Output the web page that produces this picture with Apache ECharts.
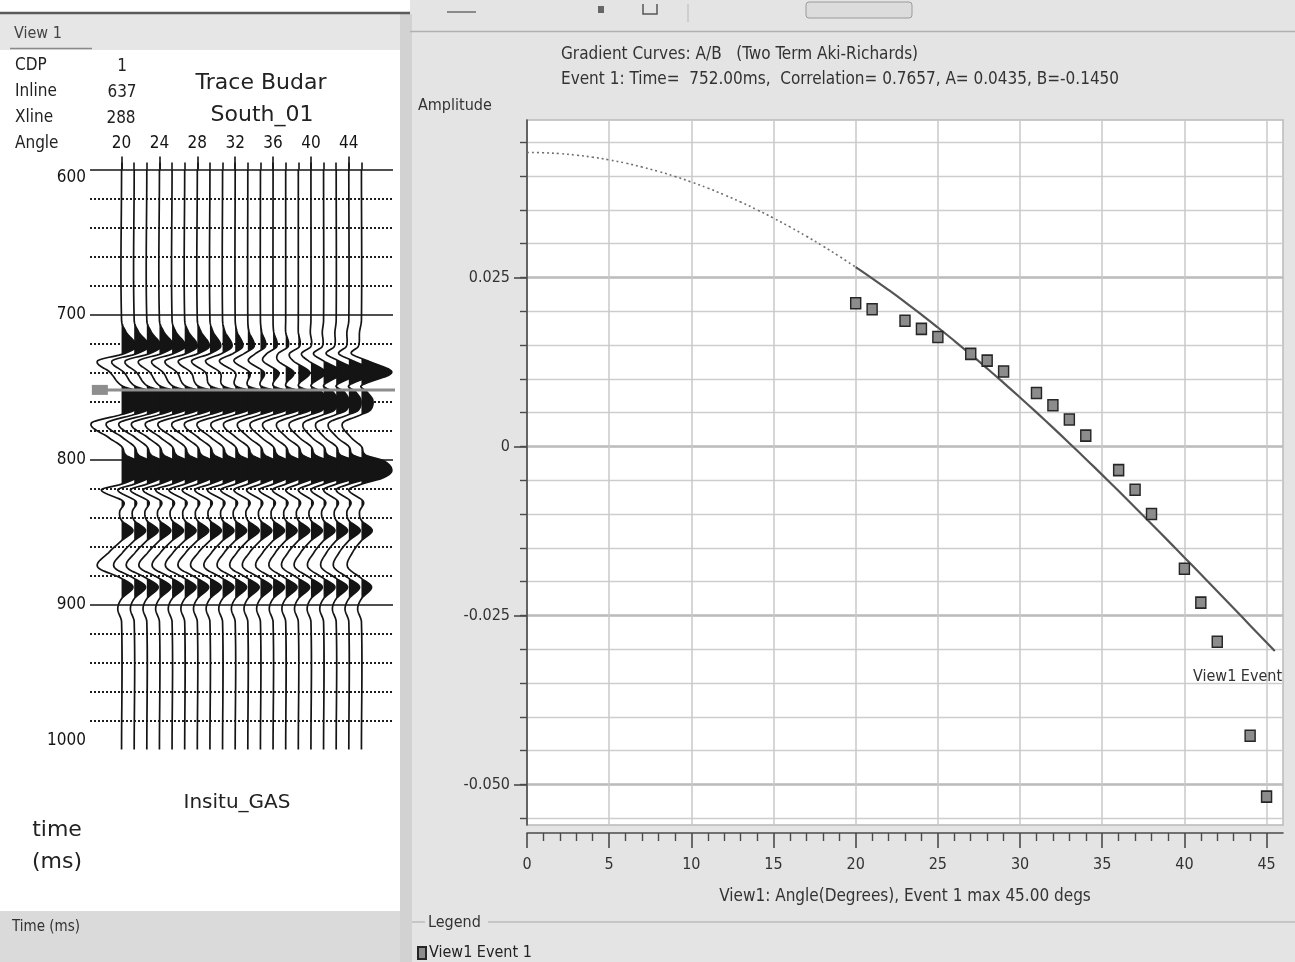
<!DOCTYPE html>
<html>
<head>
<meta charset="utf-8">
<title>Gradient Curves A/B</title>
<script src="https://cdn.jsdelivr.net/npm/echarts@6/dist/echarts.min.js"></script>
<style>
  html, body { margin: 0; padding: 0; background: #ffffff; }
  #chart { width: 1295px; height: 962px; }
</style>
</head>
<body>
<div id="chart"></div>
<script>
// ---------- Gradient analysis (two-term Aki-Richards fit) ----------
const fitA = 0.0435;
const fitB = -0.1450;
const eventTimeMs = 752.00;
const correlation = 0.7657;
const maxAngleDeg = 45.00;
const fitEndAngle = 45.5;

// measured event amplitudes per incidence angle
const pointAngles = [20, 21, 23, 24, 25, 27, 28, 29, 31, 32, 33, 34, 36, 37, 38, 40, 41, 42, 44, 45];
const pointAmplitudes = [0.0212, 0.0203, 0.0186, 0.0174, 0.0162, 0.0137, 0.0127, 0.0111, 0.0079, 0.0061,
                         0.0040, 0.0016, -0.0035, -0.0064, -0.0100, -0.0181, -0.0231, -0.0289, -0.0428, -0.0518];

// axis ticks
const angleMajorTicks = [0, 5, 10, 15, 20, 25, 30, 35, 40, 45];
const angleMinorTicks = [1, 2, 3, 4, 6, 7, 8, 9, 11, 12, 13, 14, 16, 17, 18, 19, 21, 22, 23, 24,
                         26, 27, 28, 29, 31, 32, 33, 34, 36, 37, 38, 39, 41, 42, 43, 44];
const ampMajorTicks = [-0.050, -0.025, 0, 0.025];
const ampMinorTicks = [-0.055, -0.050, -0.045, -0.040, -0.035, -0.030, -0.025, -0.020, -0.015, -0.010, -0.005,
                       0, 0.005, 0.010, 0.015, 0.020, 0.025, 0.030, 0.035, 0.040, 0.045];
const ampAxisMin = -0.056;
const ampAxisMax = 0.0483;
const angleAxisMax = 46;

// ---------- Angle gather (left panel) ----------
const gatherInfo = { cdp: '1', inline: '637', xline: '288' };
const traceIndex = [0, 1, 2, 3, 4, 5, 6, 7, 8, 9, 10, 11, 12, 13, 14, 15, 16, 17, 18, 19];
const angleLabelTraces = [0, 3, 6, 9, 12, 15, 18];
const angleLabels = ['20', '24', '28', '32', '36', '40', '44'];
const timeLabels = [600, 700, 800, 900, 1000];
const timeLines = [600, 700, 800, 900];

// wiggle knots: time (ms) and, per knot, the amplitude of each of the 20 traces
// (amplitude in units of trace spacing, positive = right / filled)
const knotTimes = [600, 704, 712, 722, 727, 732, 740, 749, 753, 759, 766, 769, 775, 785, 791, 797, 801, 808, 813, 817,
                   821, 829, 836, 842, 849, 856, 864, 874, 882, 888, 896, 903, 912, 1000];
const traceAmplitudes = [
  [0,0,0,0,0,0,0,0,0,0,0,0,0,0,0,0,0,0,0,0],
  [0,0,0,0,0,0,0,0,0,0,0,0,0,0,0,0,0,0,0,0],
  [0.35,0.35,0.35,0.35,0.3,0.3,0.3,0.25,0.2,0.15,0.1,0.1,0.05,0,0,-0.05,-0.1,-0.1,-0.15,-0.15],
  [1.15,1.15,1.1,1.1,1.05,1.0,0.95,0.85,0.75,0.6,0.5,0.4,0.3,0.2,0.1,0,-0.1,-0.15,-0.2,-0.25],
  [0.2,0.2,0.2,0.15,0.1,0.1,0.05,0,-0.1,-0.2,-0.3,-0.4,-0.5,-0.6,-0.7,-0.75,-0.8,-0.8,-0.8,-0.8],
  [-1.9,-1.75,-1.7,-1.65,-1.6,-1.55,-1.5,-1.45,-1.35,-1.25,-1.1,-0.95,-0.8,-0.6,-0.4,-0.2,0,0.2,0.35,0.5],
  [-0.9,-0.8,-0.8,-0.75,-0.7,-0.6,-0.5,-0.35,-0.2,0,0.15,0.3,0.45,0.65,0.9,1.15,1.45,1.75,2.05,2.4],
  [0,0,0,0,0,0,0,0,0,0,0,0,0,0,0,0,0,0,0,0],
  [1.2,1.2,1.2,1.2,1.2,1.2,1.2,1.2,1.2,1.2,1.2,1.2,1.1,1.0,0.9,0.8,0.7,0.6,0.5,0.4],
  [1.4,1.4,1.4,1.4,1.4,1.4,1.4,1.4,1.4,1.4,1.4,1.4,1.35,1.3,1.25,1.2,1.1,1.0,0.95,0.9],
  [1.0,1.0,1.0,1.0,1.0,1.0,1.0,1.0,1.0,1.0,1.0,1.0,1.0,1.0,0.95,0.9,0.85,0.8,0.75,0.7],
  [0,0,0,0,0,0,0,0,0,0,0,0,0,0,0,0,0,0,0,0],
  [-2.4,-2.2,-2.2,-2.2,-2.1,-2.1,-2.0,-2.0,-2.0,-1.9,-1.9,-1.8,-1.8,-1.8,-1.7,-1.7,-1.6,-1.6,-1.6,-1.5],
  [-1.0,-0.9,-0.9,-0.9,-0.9,-0.9,-0.9,-0.9,-0.9,-0.9,-0.9,-0.9,-0.9,-0.9,-0.9,-0.9,-0.9,-0.9,-0.9,-0.8],
  [0,0,0,0,0,0,0,0,0,0,0,0,0,0,0,0,0,0,0,0],
  [0.35,0.35,0.35,0.35,0.35,0.35,0.35,0.35,0.35,0.35,0.35,0.35,0.35,0.35,0.35,0.35,0.35,0.35,0.35,0.35],
  [1.2,1.2,1.2,1.2,1.2,1.2,1.2,1.2,1.2,1.2,1.2,1.2,1.2,1.2,1.25,1.3,1.4,1.5,1.6,1.8],
  [1.4,1.4,1.4,1.4,1.4,1.4,1.4,1.4,1.4,1.4,1.45,1.5,1.5,1.55,1.6,1.7,1.8,2.0,2.2,2.4],
  [1.1,1.1,1.1,1.1,1.1,1.1,1.1,1.1,1.1,1.1,1.1,1.1,1.1,1.15,1.2,1.3,1.35,1.45,1.55,1.6],
  [0,0,0,0,0,0,0,0,0,0,0,0,0,0,0,0,0,0,0,0],
  [-1.6,-1.3,-1.3,-1.3,-1.3,-1.25,-1.2,-1.2,-1.2,-1.15,-1.1,-1.1,-1.1,-1.05,-1.0,-1.0,-1.0,-1.0,-1.0,-1.0],
  [0.15,0.15,0.15,0.15,0.15,0.15,0.15,0.15,0.15,0.15,0.15,0.15,0.15,0.15,0.15,0.15,0.15,0.15,0.15,0.15],
  [-0.15,-0.15,-0.15,-0.15,-0.15,-0.15,-0.15,-0.15,-0.15,-0.15,-0.15,-0.15,-0.15,-0.15,-0.15,-0.15,-0.15,-0.15,-0.15,-0.15],
  [0,0,0,0,0,0,0,0,0,0,0,0,0,0,0,0,0,0,0,0],
  [0.9,0.9,0.9,0.9,0.9,0.9,0.9,0.9,0.9,0.9,0.9,0.9,0.9,0.9,0.9,0.9,0.9,0.9,0.9,0.85],
  [0,0,0,0,0,0,0,0,0,0,0,0,0,0,0,0,0,0,0,0],
  [-1.0,-0.9,-0.9,-0.9,-0.9,-0.9,-0.9,-0.9,-0.85,-0.85,-0.85,-0.85,-0.8,-0.8,-0.8,-0.8,-0.75,-0.75,-0.75,-0.7],
  [-1.9,-1.6,-1.6,-1.6,-1.55,-1.5,-1.5,-1.5,-1.45,-1.4,-1.4,-1.4,-1.35,-1.3,-1.3,-1.3,-1.25,-1.2,-1.2,-1.1],
  [0,0,0,0,0,0,0,0,0,0,0,0,0,0,0,0,0,0,0,0],
  [0.9,0.9,0.9,0.9,0.9,0.9,0.9,0.9,0.9,0.9,0.9,0.9,0.9,0.9,0.9,0.9,0.9,0.9,0.85,0.8],
  [0,0,0,0,0,0,0,0,0,0,0,0,0,0,0,0,0,0,0,0],
  [-0.3,-0.3,-0.3,-0.3,-0.3,-0.3,-0.3,-0.3,-0.3,-0.3,-0.3,-0.3,-0.3,-0.3,-0.3,-0.3,-0.3,-0.3,-0.3,-0.3],
  [0,0,0,0,0,0,0,0,0,0,0,0,0,0,0,0,0,0,0,0],
  [0,0,0,0,0,0,0,0,0,0,0,0,0,0,0,0,0,0,0,0]
];

// ---------- fonts ----------
const narrowFont = "'Liberation Sans Narrow', 'DejaVu Sans Condensed', 'Arial Narrow', sans-serif";
const wideFont = "'DejaVu Sans', Verdana, sans-serif";

// Aki-Richards two-term curve R(theta) = A + B sin^2(theta), from the fitted A and B
function akiRichards(deg) {
  const s = Math.sin(deg * Math.PI / 180);
  return fitA + fitB * s * s;
}
const fitDashedAngles = [];
for (let d = 0; d <= 20; d += 1) fitDashedAngles.push(d);
const fitSolidAngles = [];
for (let d = 20; d <= 45; d += 1) fitSolidAngles.push(d);
fitSolidAngles.push(fitEndAngle);

// cubic Hermite pass through the wiggle knots, for drawing a smooth trace
function smoothTrace(pts, step) {
  const n = pts.length;
  const m = pts.map((p, k) => (k === 0 || k === n - 1) ? 0 :
    (pts[k + 1][1] - pts[k - 1][1]) / (pts[k + 1][0] - pts[k - 1][0]));
  const out = [];
  for (let k = 0; k < n - 1; k++) {
    const t0 = pts[k][0], a0 = pts[k][1], t1 = pts[k + 1][0], a1 = pts[k + 1][1];
    const h = t1 - t0;
    const steps = Math.max(1, Math.ceil(h / step));
    for (let s = 0; s < steps; s++) {
      const u = s / steps, u2 = u * u, u3 = u2 * u;
      const a = (2 * u3 - 3 * u2 + 1) * a0 + (u3 - 2 * u2 + u) * h * m[k] +
                (-2 * u3 + 3 * u2) * a1 + (u3 - u2) * h * m[k + 1];
      out.push([t0 + u * h, a]);
    }
  }
  out.push(pts[n - 1]);
  return out;
}

function renderWiggle(params, api) {
  const i = api.value(0);
  const knots = knotTimes.map((t, k) => [t, traceAmplitudes[k][i]]);
  const dense = smoothTrace(knots, 0.5);
  const line = dense.map(d => api.coord([i + d[1], d[0]]));
  const polys = [];
  let cur = null;
  for (let j = 0; j < dense.length; j++) {
    const t = dense[j][0], a = dense[j][1];
    if (a > 0) {
      if (!cur) {
        let tc = t;
        if (j > 0) {
          const t0 = dense[j - 1][0], a0 = dense[j - 1][1];
          tc = t0 + (t - t0) * (0 - a0) / (a - a0);
        }
        cur = [api.coord([i, tc])];
      }
      cur.push(api.coord([i + a, t]));
    } else if (cur) {
      const t0 = dense[j - 1][0], a0 = dense[j - 1][1];
      const tc = t0 + (t - t0) * a0 / (a0 - a);
      cur.push(api.coord([i, tc]));
      polys.push(cur);
      cur = null;
    }
  }
  if (cur) { cur.push(api.coord([i, dense[dense.length - 1][0]])); polys.push(cur); }
  const children = polys.map(p => ({ type: 'polygon', shape: { points: p }, style: { fill: '#141414' } }));
  children.push({ type: 'polyline', shape: { points: line }, style: { stroke: '#141414', lineWidth: 1.7, fill: null } });
  return { type: 'group', children: children };
}

// ---------- page furniture: panels and captions ----------
function txt(x, y, text, size, opts) {
  opts = opts || {};
  return {
    type: 'text', x: x, y: y, z: 100,
    style: {
      text: text,
      font: (opts.weight || 'normal') + ' ' + size + 'px ' + (opts.family || narrowFont),
      fill: opts.color || '#222',
      textAlign: opts.align || 'left', align: opts.align || 'left',
      textVerticalAlign: 'middle', verticalAlign: 'middle'
    }
  };
}
function rect(x, y, w, h, fill, z) {
  return { type: 'rect', shape: { x: x, y: y, width: w, height: h }, style: { fill: fill }, z: z === undefined ? -10 : z, silent: true };
}
function hline(x1, x2, y, color, width, z) {
  return { type: 'line', shape: { x1: x1, y1: y, x2: x2, y2: y }, style: { stroke: color, lineWidth: width }, z: z === undefined ? -5 : z, silent: true };
}
function vline(x, y1, y2, color, width, z) {
  return { type: 'line', shape: { x1: x, y1: y1, x2: x, y2: y2 }, style: { stroke: color, lineWidth: width }, z: z === undefined ? -5 : z, silent: true };
}

const panelGraphics = [
  rect(410, 0, 885, 962, '#e4e4e4'),
  rect(0, 14, 402, 36, '#e6e6e6'),
  rect(0, 911, 402, 51, '#dadada'),
  rect(400, 14, 12, 948, '#d2d2d2'),
  hline(0, 410, 13, '#5a5a5a', 2.5),
  hline(10, 92, 48.5, '#8a8a8a', 1.5),
  hline(410, 1295, 31.5, '#b0b0b0', 1.5),
  // toolbar bits
  hline(447, 476, 12, '#8a8a8a', 2),
  rect(598, 6, 6, 7, '#666', -5),
  { type: 'polyline', shape: { points: [[643, 4], [643, 14], [657, 14], [657, 4]] }, style: { stroke: '#555', lineWidth: 1.5, fill: null }, z: -5 },
  vline(688, 4, 22, '#b8b8b8', 1),
  { type: 'rect', shape: { x: 806, y: 2, width: 106, height: 16, r: 3 }, style: { fill: '#dcdcdc', stroke: '#9a9a9a', lineWidth: 1 }, z: -5 },
  // legend group box
  hline(412, 425, 922, '#bdbdbd', 1.5),
  hline(488, 1295, 922, '#bdbdbd', 1.5),

  txt(14, 34, 'View 1', 16, { color: '#444' }),
  txt(15, 66, 'CDP', 17), txt(15, 92, 'Inline', 17), txt(15, 118, 'Xline', 17), txt(15, 144, 'Angle', 17),
  txt(122, 67, gatherInfo.cdp, 17, { align: 'center' }),
  txt(122, 93, gatherInfo.inline, 17, { align: 'center' }),
  txt(121, 119, gatherInfo.xline, 17, { align: 'center' }),
  txt(261, 83, 'Trace Budar', 22, { align: 'center', family: wideFont }),
  txt(262, 115, 'South_01', 22, { align: 'center', family: wideFont }),
  txt(237, 803, 'Insitu_GAS', 20, { align: 'center', family: wideFont }),
  txt(57, 830, 'time', 22, { align: 'center', family: wideFont }),
  txt(57, 862, '(ms)', 22, { align: 'center', family: wideFont }),
  txt(12, 927, 'Time (ms)', 15, { color: '#333' }),

  txt(561, 55, 'Gradient Curves: A/B   (Two Term Aki-Richards)', 17, { color: '#333' }),
  txt(561, 80, 'Event 1: Time=  ' + eventTimeMs.toFixed(2) + 'ms,  Correlation= ' + correlation.toFixed(4) +
               ', A= ' + fitA.toFixed(4) + ', B=' + fitB.toFixed(4), 17, { color: '#333' }),
  txt(418, 106, 'Amplitude', 16, { color: '#333' }),
  txt(1193, 677, 'View1 Event', 16, { color: '#333' }),
  txt(428, 923, 'Legend', 16, { color: '#333' })
];

const chart = echarts.init(document.getElementById('chart'), null, { renderer: 'canvas' });

const option = {
  animation: false,
  backgroundColor: '#ffffff',
  textStyle: { fontFamily: narrowFont },
  graphic: { elements: panelGraphics },
  legend: {
    data: ['View1 Event 1'],
    left: 412, top: 940,
    icon: 'rect', itemWidth: 8, itemHeight: 12, itemGap: 4,
    textStyle: { fontSize: 16, color: '#222', fontFamily: narrowFont, padding: [0, 0, 0, -2] }
  },
  grid: [
    { left: 90, top: 169.5, width: 303, height: 580, show: false },
    { left: 527, top: 120, width: 756, height: 705, show: true, backgroundColor: '#ffffff', borderColor: '#b9b9b9', borderWidth: 1.5 }
  ],
  xAxis: [
    { gridIndex: 0, type: 'value', min: -2.5, max: 21.5, show: false, position: 'bottom' },
    {
      gridIndex: 0, type: 'value', min: -2.5, max: 21.5, position: 'top',
      axisLine: { show: false, onZero: false },
      axisTick: { show: true, customValues: traceIndex, length: 7, lineStyle: { color: '#141414', width: 1.6 } },
      axisLabel: { show: false }, splitLine: { show: false }
    },
    {
      gridIndex: 0, type: 'value', min: -2.5, max: 21.5, position: 'top',
      axisLine: { show: false, onZero: false },
      axisTick: { show: true, customValues: angleLabelTraces, length: 13, lineStyle: { color: '#141414', width: 1.6 } },
      axisLabel: {
        customValues: angleLabelTraces, margin: 17, fontSize: 17, color: '#141414', fontFamily: narrowFont,
        formatter: v => angleLabels[angleLabelTraces.indexOf(Math.round(v))]
      },
      splitLine: { show: false }
    },
    {
      gridIndex: 1, type: 'value', min: 0, max: angleAxisMax, position: 'bottom', offset: 8,
      axisLine: { show: true, onZero: false, lineStyle: { color: '#4a4a4a', width: 1.6 } },
      axisTick: { show: true, customValues: angleMajorTicks, length: 15, lineStyle: { color: '#4a4a4a', width: 1.6 } },
      axisLabel: { customValues: angleMajorTicks, margin: 24, fontSize: 16, color: '#333', fontFamily: narrowFont },
      splitLine: { show: true, lineStyle: { color: '#c9c9c9', width: 1.5 } },
      name: 'View1: Angle(Degrees), Event 1 max ' + maxAngleDeg.toFixed(2) + ' degs',
      nameLocation: 'middle', nameGap: 55,
      nameTextStyle: { fontSize: 17, color: '#333', fontFamily: narrowFont }
    },
    {
      gridIndex: 1, type: 'value', min: 0, max: angleAxisMax, position: 'bottom', offset: 8,
      axisLine: { show: false, onZero: false },
      axisTick: { show: true, customValues: angleMinorTicks, length: 8, lineStyle: { color: '#4a4a4a', width: 1.4 } },
      axisLabel: { show: false }, splitLine: { show: false }
    }
  ],
  yAxis: [
    {
      gridIndex: 0, type: 'value', inverse: true, min: 600, max: 1000, interval: 100, position: 'left',
      axisLine: { show: false, onZero: false },
      axisTick: { show: false, customValues: timeLines },
      axisLabel: {
        customValues: timeLabels, margin: 4, fontSize: 17, color: '#141414', fontFamily: narrowFont,
        formatter: v => String(Math.round(v)),
        verticalAlignMinLabel: 'top', verticalAlignMaxLabel: 'bottom'
      },
      splitLine: { show: true, lineStyle: { color: '#141414', width: 1.6 } },
      minorTick: { show: false, splitNumber: 5 },
      minorSplitLine: { show: true, lineStyle: { color: '#1e1e1e', width: 2, type: [2, 2] } }
    },
    {
      gridIndex: 1, type: 'value', min: ampAxisMin, max: ampAxisMax, position: 'left',
      axisLine: { show: false, onZero: false },
      axisTick: { show: true, customValues: ampMinorTicks, length: 7, lineStyle: { color: '#4a4a4a', width: 1.4 } },
      axisLabel: { show: false },
      splitLine: { show: true, lineStyle: { color: '#cdcdcd', width: 1.3 } }
    },
    {
      gridIndex: 1, type: 'value', min: ampAxisMin, max: ampAxisMax, position: 'left',
      axisLine: { show: true, onZero: false, lineStyle: { color: '#4a4a4a', width: 1.6 } },
      axisTick: { show: true, customValues: ampMajorTicks, length: 13, lineStyle: { color: '#4a4a4a', width: 1.6 } },
      axisLabel: {
        customValues: ampMajorTicks, margin: 17, fontSize: 16, color: '#333', fontFamily: narrowFont,
        formatter: v => (Math.abs(v) < 1e-9 ? '0' : v.toFixed(3))
      },
      splitLine: { show: true, lineStyle: { color: '#bcbcbc', width: 2.6 } }
    }
  ],
  series: [
    {
      type: 'custom', name: 'gather', xAxisIndex: 0, yAxisIndex: 0,
      data: traceIndex.map(i => [i, 800]),
      encode: { x: 0, y: 1 },
      renderItem: renderWiggle, clip: false, z: 3, silent: true
    },
    {
      type: 'line', name: 'event marker', xAxisIndex: 0, yAxisIndex: 0, clip: false, z: 6, silent: true,
      data: [
        { value: [-1.72, eventTimeMs], symbol: 'rect', symbolSize: [16, 10] },
        { value: [22.8, eventTimeMs], symbol: 'none' }
      ],
      lineStyle: { color: '#8e8e8e', width: 3 },
      itemStyle: { color: '#8e8e8e' }
    },
    {
      type: 'line', name: 'fit-extrapolated', xAxisIndex: 3, yAxisIndex: 2, z: 4, silent: true,
      data: fitDashedAngles.map(d => [d, akiRichards(d)]),
      smooth: true, showSymbol: false,
      lineStyle: { color: '#6f6f6f', width: 1.6, type: [2, 3] }
    },
    {
      type: 'line', name: 'fit', xAxisIndex: 3, yAxisIndex: 2, z: 4, silent: true,
      data: fitSolidAngles.map(d => [d, akiRichards(d)]),
      smooth: true, showSymbol: false,
      lineStyle: { color: '#545454', width: 2.2 }
    },
    {
      type: 'scatter', name: 'View1 Event 1', xAxisIndex: 3, yAxisIndex: 2, z: 5,
      data: pointAngles.map((a, k) => [a, pointAmplitudes[k]]),
      symbol: 'rect', symbolSize: [10, 11],
      itemStyle: { color: '#8c8c8c', borderColor: '#262626', borderWidth: 1.5, opacity: 1 }
    }
  ]
};

chart.setOption(option);
</script>
</body>
</html>
